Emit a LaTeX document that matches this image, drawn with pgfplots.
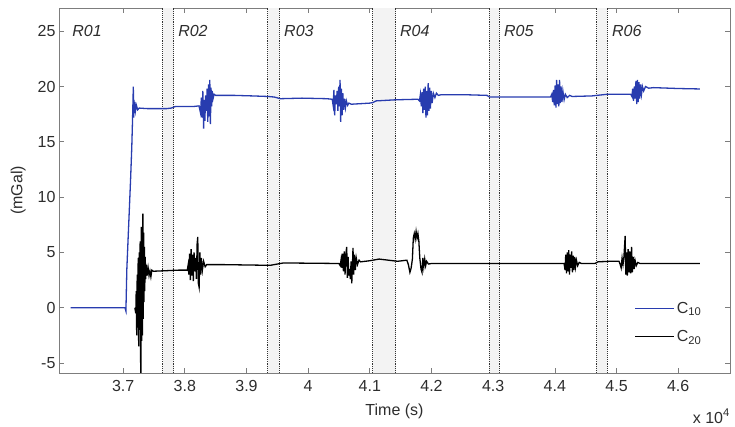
\documentclass[border=0pt]{standalone}
\usepackage{fontspec}
\setmainfont{Liberation Sans}
\usepackage{pgfplots}
\pgfplotsset{compat=1.18}
\usetikzlibrary{calc}
\definecolor{cblue}{RGB}{40,60,175}
\definecolor{framec}{RGB}{125,125,125}
\definecolor{txtc}{RGB}{45,45,45}
\definecolor{shade}{RGB}{243,243,243}
\tikzset{rlab/.style={anchor=west, inner sep=0pt, font=\fontsize{16}{19}\selectfont\itshape, text=txtc}}
\begin{document}
\begin{tikzpicture}
\begin{axis}[
  name=ax,
  scale only axis,
  width=671pt, height=365pt,
  xmin=35960, xmax=46840,
  ymin=-5.9, ymax=27.1,
  xtick={37000,38000,39000,40000,41000,42000,43000,44000,45000,46000},
  xticklabels={3.7,3.8,3.9,4,4.1,4.2,4.3,4.4,4.5,4.6},
  ytick={-5,0,5,10,15,20,25},
  scaled x ticks=false,
  tick align=inside,
  major tick length=5pt,
  axis line style={framec, line width=0.7pt},
  every tick/.style={framec, line width=0.7pt},
  /pgf/number format/assume math mode=true,
  tick label style={font=\fontsize{16}{19}\selectfont, text=txtc},
  xticklabel style={yshift=-4pt},
  label style={font=\fontsize{16}{19}\selectfont, text=txtc},
  xlabel={Time (s)},
  ylabel={(mGal)},
  xlabel style={yshift=-5pt},
  ylabel style={yshift=5pt},
  legend style={at={(0.965,0.07)}, anchor=south east, draw=none, fill=none,
    font=\fontsize{16}{19}\selectfont, text=txtc, row sep=12pt},
  legend cell align=left,
  legend image code/.code={\draw[#1, line width=1pt] (0pt,0pt) -- (39pt,0pt);},
]
% shaded gaps
\addplot[draw=none, fill=shade, forget plot] coordinates {(37643,-5.9)(37822,-5.9)(37822,27.1)(37643,27.1)} -- cycle;
\addplot[draw=none, fill=shade, forget plot] coordinates {(39345,-5.9)(39533,-5.9)(39533,27.1)(39345,27.1)} -- cycle;
\addplot[draw=none, fill=shade, forget plot] coordinates {(41047,-5.9)(41420,-5.9)(41420,27.1)(41047,27.1)} -- cycle;
\addplot[draw=none, fill=shade, forget plot] coordinates {(42937,-5.9)(43099,-5.9)(43099,27.1)(42937,27.1)} -- cycle;
\addplot[draw=none, fill=shade, forget plot] coordinates {(44677,-5.9)(44849,-5.9)(44849,27.1)(44677,27.1)} -- cycle;
% dotted boundaries
\pgfplotsinvokeforeach{37643,37822,39345,39533,41047,41420,42937,43099,44677,44849}{
  \addplot[black!80, densely dotted, line width=0.9pt, forget plot] coordinates {(#1,-5.9)(#1,27.1)};
}
\addplot[cblue, line width=1.3pt] coordinates {
(36150,0)(37030,0)(37045,-0.3)(37060,3.5)(37090,7.5)(37120,11.5)(37140,14.5)(37150,16.5)(37158,18.3)(37165,20.0)(37170,17.2)(37176,18.8)(37183,17.6)(37190,18.6)(37200,17.8)(37215,18.3)(37235,17.9)(37260,18.05)(37400,18.0)(37600,18.0)(37700,18.0)(37780,18.05)(37850,18.2)(38000,18.2)(38150,18.2)(38230,18.25)(38255,17.6)(38268,19.0)(38280,17.2)(38292,19.6)(38305,16.2)(38315,18.8)(38325,16.9)(38338,19.2)(38350,17.8)(38362,19.8)(38372,16.8)(38385,20.2)(38395,17.3)(38405,20.6)(38415,16.6)(38425,19.9)(38435,18.2)(38445,19.6)(38458,18.9)(38475,19.3)(38500,19.2)(38800,19.2)(39100,19.15)(39350,19.1)(39450,19.05)(39550,18.9)(39900,18.95)(40300,18.9)(40390,18.85)(40405,18.3)(40418,19.7)(40430,17.4)(40442,19.2)(40455,18.4)(40470,19.6)(40482,17.8)(40495,20.0)(40505,18.2)(40517,20.6)(40527,16.8)(40538,19.8)(40550,17.4)(40562,19.4)(40575,17.9)(40590,18.9)(40605,18.1)(40620,18.7)(40640,18.3)(40660,18.5)(40700,18.4)(41000,18.5)(41050,18.55)(41100,18.7)(41420,18.8)(41780,18.85)(41805,18.7)(41820,19.3)(41835,18.2)(41848,19.5)(41860,17.6)(41873,19.8)(41886,17.9)(41898,20.0)(41910,17.2)(41922,19.6)(41934,17.4)(41946,20.3)(41958,17.8)(41970,19.9)(41982,18.0)(41995,19.6)(42010,18.5)(42030,19.4)(42055,19.0)(42080,19.4)(42110,19.2)(42150,19.25)(42600,19.25)(42900,19.2)(42940,19.05)(43500,19.05)(43930,19.05)(43950,19.3)(43965,18.6)(43978,19.7)(43990,18.3)(44005,20.1)(44018,18.1)(44028,20.6)(44040,18.4)(44052,20.2)(44064,18.2)(44076,20.6)(44088,18.5)(44100,20.0)(44115,18.6)(44130,19.6)(44150,18.8)(44170,19.3)(44200,19.0)(44240,19.2)(44280,19.1)(44600,19.15)(44680,19.2)(44850,19.3)(45230,19.3)(45250,19.1)(45262,19.8)(45275,18.7)(45290,20.0)(45302,18.9)(45315,20.5)(45328,18.4)(45340,20.6)(45352,18.6)(45364,20.4)(45376,18.9)(45390,20.2)(45405,19.3)(45420,20.0)(45440,19.6)(45470,20.0)(45520,19.85)(45600,19.9)(46000,19.82)(46350,19.78)
};
\addlegendentry{C\textsubscript{10}}
\addplot[black, line width=1.3pt] coordinates {
(37190,0)(37205,-0.5)(37212,1.5)(37220,-2.5)(37228,3.0)(37236,-1.8)(37244,4.5)(37252,-3.5)(37260,5.0)(37268,-2.0)(37276,6.0)(37282,-4.0)(37288,-7)(37294,7.3)(37300,-3.0)(37308,6.5)(37314,-2.5)(37320,8.5)(37326,-1.0)(37332,6.8)(37338,0.5)(37344,5.5)(37350,1.5)(37358,4.6)(37366,2.6)(37376,3.9)(37390,2.9)(37405,3.6)(37420,2.9)(37435,3.3)(37450,2.8)(37465,3.4)(37490,3.3)(37700,3.35)(37900,3.4)(38040,3.4)(38055,3.9)(38065,3.0)(38078,4.9)(38090,2.5)(38102,5.3)(38113,2.9)(38125,4.8)(38138,2.4)(38150,5.0)(38162,3.3)(38175,4.5)(38188,2.6)(38200,5.8)(38210,6.4)(38220,2.2)(38232,1.85)(38244,5.0)(38256,3.0)(38268,4.5)(38285,3.4)(38305,4.2)(38330,3.7)(38356,3.9)(38600,3.9)(39200,3.85)(39400,3.85)(39500,3.95)(39600,4.05)(40500,4.0)(40520,3.8)(40535,4.4)(40548,3.6)(40560,4.9)(40572,3.3)(40585,5.1)(40598,3.0)(40610,4.8)(40625,5.5)(40636,2.7)(40648,4.6)(40660,2.9)(40672,3.5)(40684,2.6)(40696,4.2)(40707,2.2)(40718,3.8)(40727,5.4)(40738,3.0)(40750,4.8)(40765,3.4)(40780,4.5)(40800,3.9)(40825,4.3)(40850,4.15)(41000,4.25)(41150,4.4)(41300,4.3)(41450,4.2)(41600,4.3)(41625,3.9)(41650,3.2)(41670,3.6)(41690,4.4)(41705,6.3)(41720,6.7)(41735,6.2)(41750,6.9)(41765,6.3)(41780,6.7)(41795,6.0)(41810,4.5)(41830,3.5)(41846,3.2)(41860,4.5)(41875,3.7)(41890,4.4)(41905,3.8)(41920,4.2)(41950,3.95)(42000,4.0)(43000,4.0)(44150,4.0)(44165,3.4)(44177,4.8)(44189,3.1)(44201,5.0)(44213,3.3)(44225,5.2)(44237,3.0)(44249,4.8)(44261,3.6)(44273,5.1)(44285,3.2)(44297,4.7)(44309,3.4)(44322,4.6)(44335,3.7)(44350,4.3)(44370,3.8)(44395,4.1)(44430,4.0)(44650,4.0)(44700,4.15)(44900,4.2)(45040,4.2)(45060,3.9)(45075,3.6)(45090,4.5)(45105,3.9)(45120,4.6)(45140,6.5)(45150,3.0)(45162,5.0)(45175,2.9)(45188,5.3)(45200,3.2)(45214,5.1)(45228,3.1)(45244,5.5)(45256,3.2)(45270,4.6)(45285,3.5)(45300,4.3)(45320,3.8)(45345,4.1)(45380,4.0)(46350,4.0)
};
\addlegendentry{C\textsubscript{20}}
% region labels
\node[rlab] at (axis cs:36173,25) {R01};
\node[rlab] at (axis cs:37891,25) {R02};
\node[rlab] at (axis cs:39609,25) {R03};
\node[rlab] at (axis cs:41489,25) {R04};
\node[rlab] at (axis cs:43175,25) {R05};
\node[rlab] at (axis cs:44925,25) {R06};
\end{axis}
\node[anchor=north east, inner sep=0pt, font=\fontsize{16}{19}\selectfont, text=txtc] at ($(ax.south east)+(0pt,-36pt)$) {x 10\textsuperscript{4}};
\pgfresetboundingbox
\path[use as bounding box] ($(ax.south west)+(-59pt,-54pt)$) rectangle ($(ax.north east)+(5pt,8pt)$);
\end{tikzpicture}
\end{document}
